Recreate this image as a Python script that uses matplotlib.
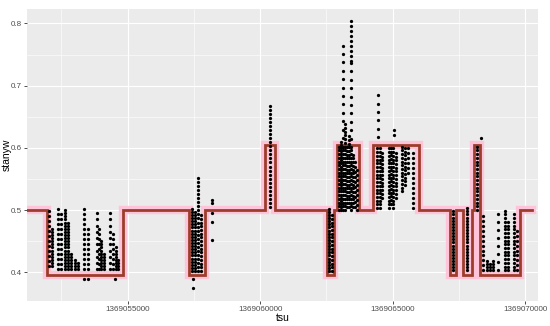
import matplotlib

matplotlib.use("Agg")
import matplotlib.pyplot as plt
import numpy as np
from matplotlib.ticker import FuncFormatter, FixedLocator

PANEL = "#EBEBEB"
LINE = "#9C3D2C"
GLOW = "#FFC4DA"
TEXT = "#4D4D4D"

# step line: value holds from each tsu until the next one
STEP_TSU = [
    1369051200, 1369051950, 1369054820, 1369057310, 1369057920, 1369060180,
    1369060560, 1369062520, 1369062790, 1369062900, 1369063730, 1369064270,
    1369066010, 1369067170, 1369067390, 1369067660, 1369068000, 1369068070,
    1369068300, 1369069810, 1369070260,
]
STEP_LEVEL = [
    0.500, 0.395, 0.500, 0.395, 0.500, 0.605,
    0.500, 0.395, 0.500, 0.605, 0.500, 0.605,
    0.500, 0.395, 0.500, 0.395, 0.500, 0.605,
    0.395, 0.500, 0.500,
]

# point columns: tsu, highest value, lowest value, spacing between readings
COL_TSU = [
    1369052030, 1369052140, 1369052370, 1369052480, 1369052630, 1369052750,
    1369052860, 1369053010, 1369053120, 1369053350, 1369053500, 1369053840,
    1369053920, 1369053990, 1369054110, 1369054330, 1369054450, 1369054560,
    1369054630,
    1369057430, 1369057540, 1369057650, 1369057770,
    1369060370,
    1369062600, 1369062710,
    1369062980, 1369063050, 1369063140, 1369063140, 1369063200, 1369063280,
    1369063350, 1369063430, 1369063430, 1369063430, 1369063510, 1369063580,
    1369063660,
    1369064410, 1369064450, 1369064520, 1369064600, 1369064860, 1369064940,
    1369065020, 1369065130, 1369065360, 1369065470, 1369065580, 1369065770,
    1369067280, 1369067810, 1369068190,
    1369068410, 1369068560, 1369068680, 1369068790, 1369068980, 1369069240,
    1369069360, 1369069580, 1369069700,
]
COL_TOP = [
    0.500, 0.470, 0.500, 0.490, 0.500, 0.480,
    0.430, 0.420, 0.415, 0.500, 0.470, 0.500,
    0.470, 0.450, 0.430, 0.500, 0.460, 0.440,
    0.420,
    0.500, 0.495, 0.553, 0.495,
    0.670,
    0.500, 0.490,
    0.600, 0.610, 0.763, 0.605, 0.640, 0.600,
    0.620, 0.800, 0.735, 0.605, 0.590, 0.580,
    0.560,
    0.600, 0.682, 0.600, 0.595, 0.600, 0.598,
    0.600, 0.595, 0.600, 0.600, 0.600, 0.590,
    0.500, 0.505, 0.605,
    0.495, 0.420, 0.415, 0.420, 0.500, 0.500,
    0.480, 0.495, 0.470,
]
COL_BOTTOM = [
    0.410, 0.410, 0.405, 0.405, 0.405, 0.405,
    0.405, 0.405, 0.405, 0.405, 0.405, 0.405,
    0.405, 0.405, 0.405, 0.405, 0.405, 0.405,
    0.405,
    0.402, 0.402, 0.402, 0.402,
    0.505,
    0.402, 0.402,
    0.500, 0.500, 0.616, 0.500, 0.500, 0.505,
    0.505, 0.740, 0.615, 0.500, 0.505, 0.505,
    0.500,
    0.503, 0.617, 0.503, 0.520, 0.503, 0.510,
    0.503, 0.520, 0.530, 0.540, 0.560, 0.503,
    0.403, 0.403, 0.500,
    0.403, 0.403, 0.403, 0.403, 0.403, 0.403,
    0.403, 0.403, 0.403,
]
COL_SPACING = [
    0.008, 0.005, 0.008, 0.008, 0.005, 0.005,
    0.005, 0.005, 0.005, 0.008, 0.008, 0.010,
    0.008, 0.005, 0.005, 0.010, 0.008, 0.005,
    0.005,
    0.005, 0.005, 0.0065, 0.006,
    0.0065,
    0.005, 0.006,
    0.006, 0.005, 0.0135, 0.006, 0.006, 0.006,
    0.006, 0.008, 0.0135, 0.006, 0.006, 0.008,
    0.008,
    0.006, 0.0135, 0.006, 0.006, 0.006, 0.006,
    0.006, 0.006, 0.006, 0.006, 0.008, 0.008,
    0.005, 0.005, 0.006,
    0.008, 0.005, 0.005, 0.005, 0.013, 0.006,
    0.006, 0.006, 0.008,
]

# stray single readings
EXTRA_TSU = [
    1369053350, 1369053500, 1369054520, 1369057470, 1369057470, 1369058180,
    1369058180, 1369058180, 1369058180, 1369058180, 1369065050, 1369065050,
    1369068330,
]
EXTRA_VALUE = [
    0.389, 0.389, 0.389, 0.390, 0.375, 0.516,
    0.511, 0.495, 0.481, 0.452, 0.629, 0.620,
    0.616,
]

X_TICKS = [1369055000, 1369060000, 1369065000, 1369070000]
X_MINOR = [1369052500, 1369057500, 1369062500, 1369067500]
Y_TICKS = [0.4, 0.5, 0.6, 0.7, 0.8]
Y_MINOR = [0.45, 0.55, 0.65, 0.75]


def expand_columns():
    xs, ys = [], []
    for x, top, bottom, step in zip(COL_TSU, COL_TOP, COL_BOTTOM, COL_SPACING):
        vals = np.arange(bottom, top + step * 0.5, step)
        xs.extend([x] * len(vals))
        ys.extend(vals)
    xs.extend(EXTRA_TSU)
    ys.extend(EXTRA_VALUE)
    return np.array(xs), np.array(ys)


def style_axes(ax):
    ax.set_facecolor(PANEL)
    for side in ax.spines.values():
        side.set_visible(False)
    ax.xaxis.set_major_locator(FixedLocator(X_TICKS))
    ax.xaxis.set_minor_locator(FixedLocator(X_MINOR))
    ax.yaxis.set_major_locator(FixedLocator(Y_TICKS))
    ax.yaxis.set_minor_locator(FixedLocator(Y_MINOR))
    ax.xaxis.set_major_formatter(FuncFormatter(lambda v, _: f"{int(round(v))}"))
    ax.yaxis.set_major_formatter(FuncFormatter(lambda v, _: f"{v:.1f}"))
    ax.grid(which="major", color="white", lw=0.8)
    ax.grid(which="minor", color="white", lw=0.4)
    ax.set_axisbelow(True)
    ax.tick_params(which="major", length=2, width=0.6, color="#333333",
                   labelcolor=TEXT, labelsize=5.8, pad=1.5)
    ax.tick_params(which="minor", length=0)


def main():
    plt.rcParams["font.family"] = ["Liberation Sans", "DejaVu Sans"]
    fig = plt.figure(figsize=(5.5, 3.26), dpi=100, facecolor="white")
    ax = fig.add_axes([0.049, 0.077, 0.930, 0.895])
    style_axes(ax)

    ax.step(STEP_TSU, STEP_LEVEL, where="post", color=GLOW, lw=6.0,
            solid_joinstyle="miter", zorder=2)
    ax.step(STEP_TSU, STEP_LEVEL, where="post", color=LINE, lw=2.0,
            solid_joinstyle="miter", zorder=3)

    xs, ys = expand_columns()
    ax.scatter(xs, ys, s=5.5, color="black", linewidths=0, zorder=4)

    ax.set_xlim(1369051200, 1369070500)
    ax.set_ylim(0.354, 0.823)
    ax.set_xlabel("tsu", fontsize=7.5, color="black")
    ax.set_ylabel("stanyw", fontsize=7.5, color="black")
    ax.xaxis.set_label_coords(0.5, -0.042)
    ax.yaxis.set_label_coords(-0.030, 0.5)

    fig.savefig("out.png", dpi=100, facecolor="white")
    plt.close(fig)


if __name__ == "__main__":
    main()
